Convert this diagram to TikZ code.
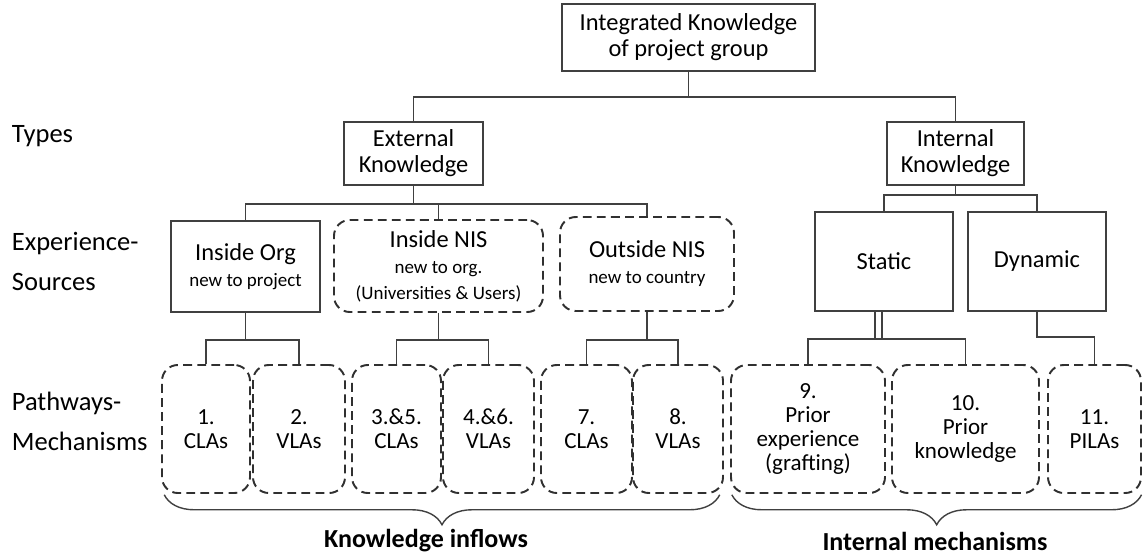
\documentclass[tikz,border=0pt]{standalone}
\usepackage{fontspec}
\setmainfont{Carlito}
\usetikzlibrary{decorations.pathreplacing}

\definecolor{linegray}{RGB}{64,64,64}
\definecolor{dashgray}{RGB}{48,48,48}
\newcommand{\fntbox}{\fontsize{13.9}{14.8}\selectfont}
\newcommand{\fntnote}{\fontsize{10.8}{12.2}\selectfont}
\newcommand{\fntmech}{\fontsize{13.1}{13.7}\selectfont}
\newcommand{\fntside}{\fontsize{15.1}{22.8}\selectfont}
\newcommand{\fntbold}{\fontsize{14.8}{16}\selectfont\bfseries}

\begin{document}
\begin{tikzpicture}[scale=0.2,
	solidbox/.style={draw=linegray, line width=0.8pt, fill=white, align=center, inner sep=0pt, font=\fntbox},
	dashbox/.style={draw=dashgray, line width=1.1pt, dash pattern=on 5pt off 3pt, rounded corners=9pt, fill=white, align=center, inner sep=0pt, font=\fntbox},
	mechbox/.style={dashbox, font=\fntmech, minimum height=2.56cm},
	wire/.style={draw=linegray, line width=0.8pt},
	sidelabel/.style={align=left, inner sep=0pt, font=\fntside},
	bracelabel/.style={inner sep=0pt, font=\fntbold}]
				\useasboundingbox (0,0) rectangle (114.4,-55.6);
				% top of the tree
				\node [solidbox, minimum width=5.06cm, minimum height=1.34cm] (top) at (68.85,-3.75) {Integrated Knowledge\\of project group};
				\node [solidbox, minimum width=2.78cm, minimum height=1.26cm] (ext) at (41.35,-15.35) {External\\Knowledge};
				\node [solidbox, minimum width=2.74cm, minimum height=1.26cm] (int) at (95.55,-15.35) {Internal\\Knowledge};
				% sources
				\node [solidbox, minimum width=2.98cm, minimum height=1.82cm] (inorg) at (24.55,-26.65) {Inside Org\\\fntnote new to project};
				\node [dashbox, minimum width=4.18cm, minimum height=1.84cm] (innis) at (43.85,-26.6) {Inside NIS\\\fntnote new to org.\\\fntnote (Universities \& Users)};
				\node [dashbox, minimum width=3.48cm, minimum height=1.88cm] (outnis) at (64.7,-26.4) {Outside NIS\\\fntnote new to country};
				\node [solidbox, minimum width=2.76cm, minimum height=1.98cm] (static) at (88.4,-26.15) {Static};
				\node [solidbox, minimum width=2.76cm, minimum height=1.98cm] (dynamic) at (103.7,-26.15) {Dynamic};
				% pathways and mechanisms
				\node [mechbox, minimum width=1.76cm] (m1) at (20.6,-42.9) {1.\\CLAs};
				\node [mechbox, minimum width=1.84cm] (m2) at (29.9,-42.9) {2.\\VLAs};
				\node [mechbox, minimum width=1.78cm] (m3) at (39.65,-42.9) {3.\&5.\\CLAs};
				\node [mechbox, minimum width=1.82cm] (m4) at (48.85,-42.9) {4.\&6.\\VLAs};
				\node [mechbox, minimum width=1.82cm] (m5) at (58.65,-42.9) {7.\\CLAs};
				\node [mechbox, minimum width=1.80cm] (m6) at (67.8,-42.9) {8.\\VLAs};
				\node [mechbox, minimum width=3.08cm] (m9) at (80.8,-42.9) {9.\\Prior\\experience\\(grafting)};
				\node [mechbox, minimum width=2.94cm] (m10) at (96.55,-42.9) {10.\\Prior\\knowledge};
				\node [mechbox, minimum width=1.86cm] (m11) at (109.45,-42.9) {11.\\PILAs};
				% row labels
				\node [sidelabel, anchor=base west] (types) at (1.15,-14.2) {Types};
				\node [sidelabel, anchor=west] (sources) at (1.15,-26.1) {Experience-\\Sources};
				\node [sidelabel, anchor=west] (pathways) at (1.15,-42.1) {Pathways-\\Mechanisms};
				% connectors
				\coordinate (busa) at (68.85,-9.7);
				\coordinate (busb) at (41.35,-20.4);
				\coordinate (busc) at (95.55,-19.5);
				\coordinate (busd) at (24.55,-34);
				\coordinate (buse) at (43.85,-34);
				\coordinate (busf) at (64.7,-34);
				\coordinate (busg) at (87.85,-33.9);
				\coordinate (bush) at (103.7,-33.7);
				\draw [wire] (top.south) -- (busa);
				\draw [wire] (ext.north) |- (busa) -| (int.north);
				\draw [wire] (ext.south) -- (busb);
				\draw [wire] (inorg.north) |- (busb) -| (outnis.north);
				\draw [wire] (busb -| innis.north) -- (innis.north);
				\draw [wire] (int.south) -- (busc);
				\draw [wire] (static.north) |- (busc) -| (dynamic.north);
				\draw [wire] (inorg.south) -- (busd);
				\draw [wire] (m1.north) |- (busd) -| (m2.north);
				\draw [wire] (innis.south) -- (buse);
				\draw [wire] (m3.north) |- (buse) -| (m4.north);
				\draw [wire] (outnis.south) -- (busf);
				\draw [wire] (m5.north) |- (busf) -| (m6.north);
				\draw [wire, double, double distance=3.2pt] (static.south -| busg) -- (busg);
				\draw [wire] (m9.north) |- (busg) -| (m10.north);
				\draw [wire] (dynamic.south) -- (bush) -| (m11.north);
				% braces
				\draw [wire, decorate, decoration={brace, mirror, amplitude=0.6cm}] ([xshift=0.32cm, yshift=-0.08cm]m1.south west) -- ([xshift=-0.42cm, yshift=-0.08cm]m6.south east);
				\draw [wire, decorate, decoration={brace, mirror, amplitude=0.6cm}] ([xshift=0.18cm, yshift=-0.08cm]m9.south west) -- ([xshift=-0.04cm, yshift=-0.08cm]m11.south east);
				\node [bracelabel] (inflows) at (42.6,-54.1) {Knowledge inflows};
				\node [bracelabel] (intmech) at (93.5,-54.1) {Internal mechanisms};
			\end{tikzpicture}
\end{document}
